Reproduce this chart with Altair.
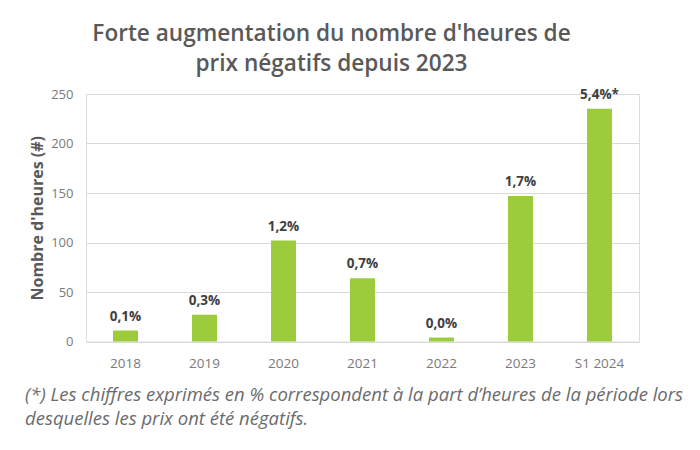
import altair as alt
import pandas as pd

categories = ["2018", "2019", "2020", "2021", "2022", "2023", "S1 2024"]
heures = [11, 27, 102, 64, 4, 147, 235]
parts = ["0,1%", "0,3%", "1,2%", "0,7%", "0,0%", "1,7%", "5,4%*"]
y_ticks = [0, 50, 100, 150, 200, 250]
footnote_lines = [
    "(*) Les chiffres exprimés en % correspondent à la part d\u2019heures de la période lors",
    "desquelles les prix ont été négatifs.",
]

df = pd.DataFrame({"cat": categories, "h": heures, "lab": parts})

FONT = "Open Sans"
GREEN = "#9ccc3c"

x = alt.X("cat:N", sort=categories, title=None,
          scale=alt.Scale(paddingInner=0.684, paddingOuter=0.342),
          axis=alt.Axis(labelAngle=0, domain=False, ticks=False, labelPadding=15,
                        labelFontSize=13.5, labelColor="#7a7a7a", labelFont=FONT))
y = alt.Y("h:Q", title="Nombre d'heures (#)",
          scale=alt.Scale(domain=[0, 250], nice=False),
          axis=alt.Axis(values=y_ticks, domain=False, ticks=False, labelPadding=13,
                        labelFontSize=13, labelColor="#7a7a7a", labelFont=FONT,
                        gridColor="#d9d9d9", titleFont=FONT, titleFontSize=16,
                        titleFontWeight="bold", titleColor="#595959", titlePadding=5))

bars = alt.Chart(df).mark_bar(color=GREEN).encode(x=x, y=y)
labels = alt.Chart(df).mark_text(font=FONT, fontSize=13.5, fontWeight="bold",
                                 color="#404040", dy=-10, baseline="alphabetic").encode(
    x=alt.X("cat:N", sort=categories), y="h:Q", text="lab:N")

foot = alt.Chart(pd.DataFrame({"k": [0]})).mark_text(
    font=FONT, fontSize=18.5, fontStyle="italic", color="#6b6b6b", align="left",
    baseline="alphabetic", lineHeight=24).encode(
    x=alt.value(-61),
    y=alt.value(307),
    text=alt.value(footnote_lines))

chart = alt.layer(bars, labels, foot).properties(
    width=553, height=247.5,
    padding={"left": 86, "top": 94, "right": 61, "bottom": 108},
    autosize=alt.AutoSizeParams(type="none"),
    title=alt.TitleParams(
        text=["Forte augmentation du nombre d'heures de", "prix négatifs depuis 2023"],
        font=FONT, fontSize=22.6, fontWeight=600, color="#595959",
        anchor="middle", dx=-31, offset=12, lineHeight=30),
).configure_view(stroke=None).configure(background="white")

chart.save("out.html", embed_options={"renderer": "svg", "actions": False})
